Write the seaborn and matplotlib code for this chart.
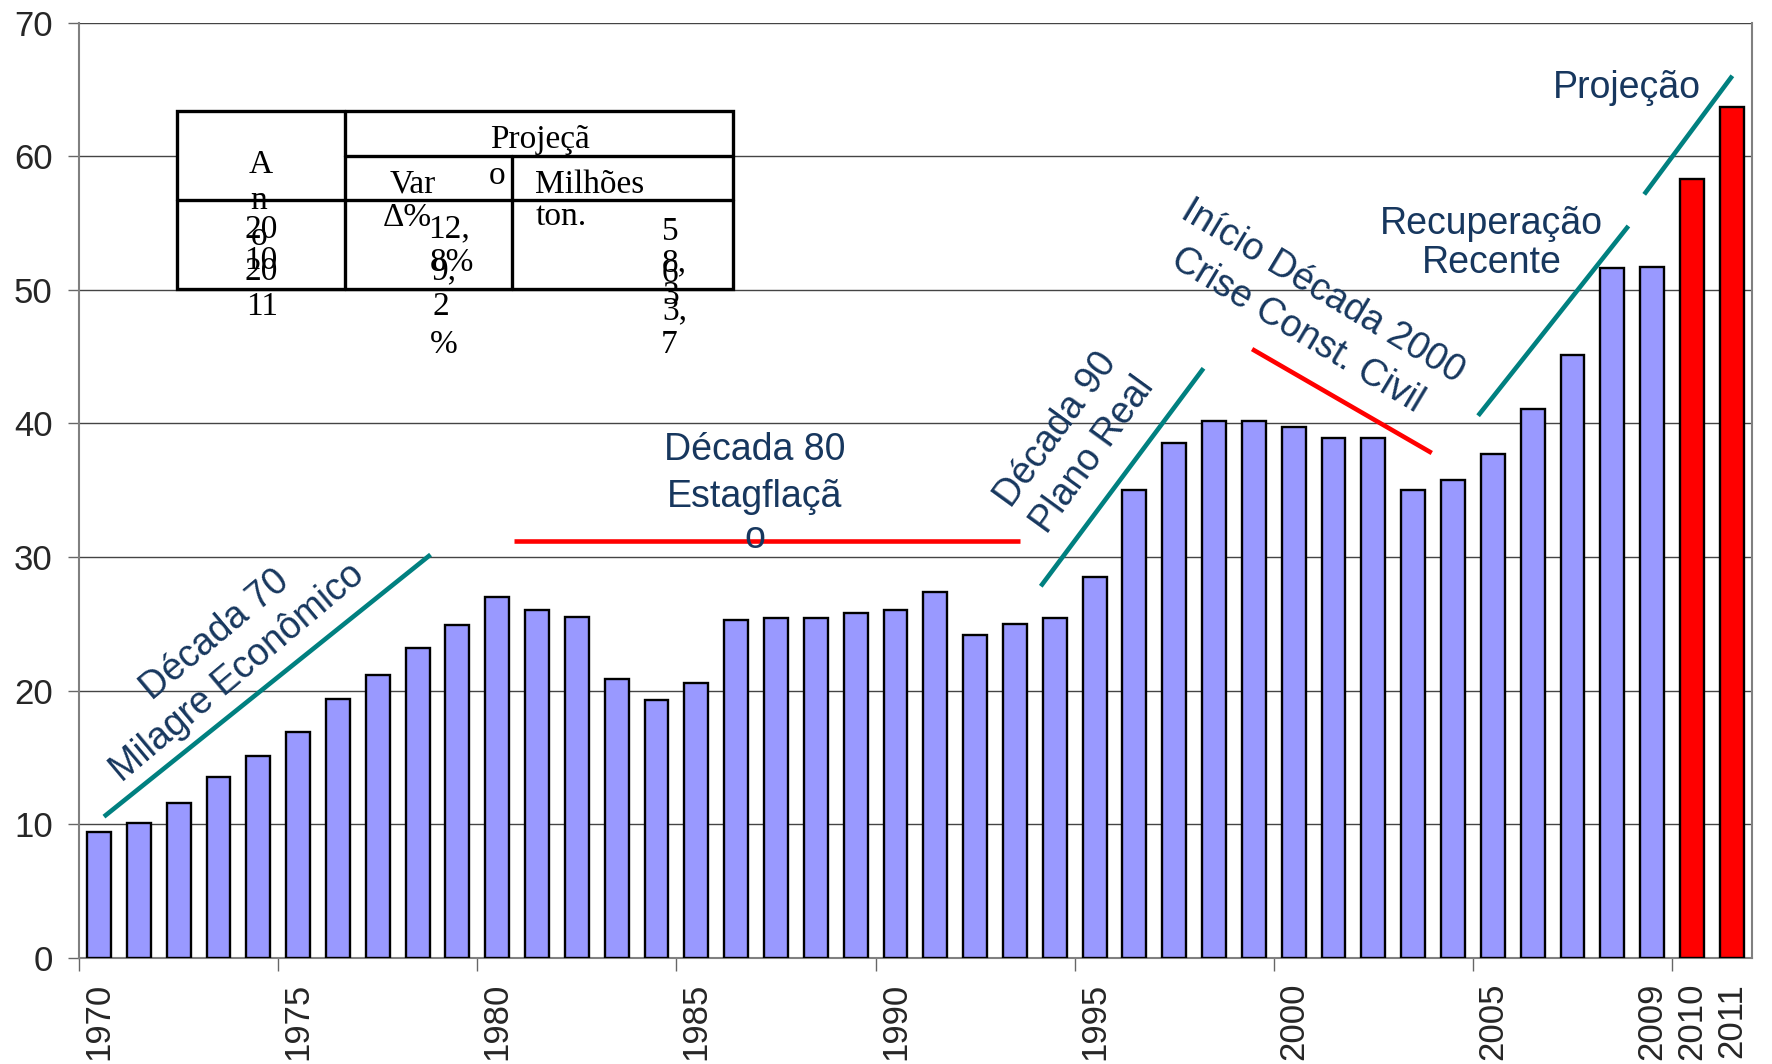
import matplotlib
matplotlib.use("Agg")
import matplotlib.pyplot as plt
from matplotlib.patches import Rectangle
from matplotlib.lines import Line2D
import pandas as pd
import seaborn as sns

# Consumo aparente de cimento no Brasil (milhões de toneladas)
anos = list(range(1970, 2012))
consumo = [9.4, 10.1, 11.6, 13.5, 15.1, 16.9, 19.4, 21.2, 23.2, 24.9,
           27.0, 26.0, 25.5, 20.9, 19.3, 20.6, 25.3, 25.4, 25.4, 25.8,
           26.0, 27.4, 24.2, 25.0, 25.4, 28.5, 35.0, 38.5, 40.2, 40.2,
           39.7, 38.9, 38.9, 35.0, 35.8, 37.7, 41.1, 45.1, 51.6, 51.7,
           58.3, 63.7]
tipo = ["Realizado"] * 40 + ["Projeção"] * 2
anos_rotulados = [1970, 1975, 1980, 1985, 1990, 1995, 2000, 2005, 2009, 2010, 2011]
y_ticks = [0, 10, 20, 30, 40, 50, 60, 70]

# Tabela de projeção
proj_anos = ["2010", "2011"]
proj_var = ["12,8%", "9,2%"]
proj_ton = ["58,3", "63,7"]

df = pd.DataFrame({"ano": [str(a) for a in anos], "consumo": consumo, "tipo": tipo})

W, H = 1772, 1064
fig = plt.figure(figsize=(W / 100, H / 100), dpi=100)
sns.set_style("white")
plt.rcParams["font.family"] = ["Liberation Sans", "DejaVu Sans"]

SX = 1772 / 1568
SY = 1064 / 942


def fx(x):
    return x * SX / W


def fy(y):
    return 1 - y * SY / H


ax = fig.add_axes([fx(70), fy(848), fx(1550) - fx(70), fy(20) - fy(848)])

sns.barplot(data=df, x="ano", y="consumo", hue="tipo",
            palette={"Realizado": "#9999FF", "Projeção": "#FF0000"},
            saturation=1, dodge=False, width=0.6, edgecolor="black",
            linewidth=1.7, legend=False, ax=ax, zorder=3)

ax.set_xlim(-0.5, len(anos) - 0.5)
ax.set_ylim(0, 70)
ax.set_xlabel("")
ax.set_ylabel("")

# y axis
ax.set_yticks(y_ticks)
ax.set_yticklabels([str(v) for v in y_ticks], fontsize=25)
ax.yaxis.grid(True, color="#444444", linewidth=1.0, zorder=0)
ax.set_axisbelow(True)
ax.tick_params(axis="y", length=8, width=1, color="#666666", pad=11, left=True)

# x axis: labels at selected years, tick marks between groups of five
pos = [anos.index(a) for a in anos_rotulados]
ax.set_xticks(pos)
ax.set_xticklabels([str(a) for a in anos_rotulados], rotation=90, fontsize=25)
ax.tick_params(axis="x", which="major", length=0, pad=18)
ax.set_xticks([i - 0.5 for i in range(0, 40, 5)] + [39.5], minor=True)
ax.tick_params(axis="x", which="minor", length=9, width=1, color="#666666", bottom=True)

for side in ["left", "bottom", "right"]:
    ax.spines[side].set_color("#808080")
    ax.spines[side].set_linewidth(1.5)
ax.spines["top"].set_visible(False)


def px_to_data(xs, ys):
    return (xs - 70) / 35.24 - 0.5, (848 - ys) / 11.83


# Trend lines
traços = [
    ((92, 723), (381, 491), "#008080"),
    ((455, 479), (903, 479), "#FF0000"),
    ((921, 519), (1065, 326), "#008080"),
    ((1108, 309), (1267, 401), "#FF0000"),
    ((1308, 368), (1441, 200), "#008080"),
    ((1455, 172), (1533, 67), "#008080"),
]
for (a, b, cor) in traços:
    x0, y0 = px_to_data(*a)
    x1, y1 = px_to_data(*b)
    ax.plot([x0, x1], [y0, y1], color=cor, linewidth=3.3, zorder=5,
            solid_capstyle="butt")

azul = "#17375E"
rotulos = [
    ("Década 70", (190, 562), 40),
    ("Milagre Econômico", (210, 596), 40),
    ("Década 80", (668, 398), 0),
    ("Estagflaçã", (668, 440), 0),
    ("o", (668, 476), 0),
    ("Década 90", (935, 380), 54),
    ("Plano Real", (967, 403), 54),
    ("Início Década 2000", (1170, 258), -31),
    ("Crise Const. Civil", (1148, 292), -31),
    ("Recuperação", (1320, 198), 0),
    ("Recente", (1320, 233), 0),
    ("Projeção", (1440, 78), 0),
]
for txt, (xs, ys), rot in rotulos:
    xd, yd = px_to_data(xs, ys)
    ax.text(xd, yd, txt, color=azul, fontsize=27, rotation=rot,
            rotation_mode="anchor", ha="center", va="center", zorder=6)

# Projection table overlay
tf = fig.transFigure
lw_t = 2.4
fig.patches.append(Rectangle((fx(157), fy(256)), fx(649) - fx(157), fy(98) - fy(256),
                             transform=tf, facecolor="white", edgecolor="black",
                             linewidth=lw_t, zorder=10))
for (x0, y0, x1, y1) in [(305, 138, 649, 138), (157, 177, 649, 177),
                         (305, 98, 305, 256), (453, 138, 453, 256)]:
    fig.lines.append(Line2D([fx(x0), fx(x1)], [fy(y0), fy(y1)], transform=tf,
                            color="black", linewidth=lw_t, zorder=11))

serif = ["Liberation Serif", "DejaVu Serif"]
tabela = [
    ("Projeçã", 478, 124), ("o", 440, 156),
    ("A", 231, 146), ("n", 229, 178),
    ("Var", 365, 163), ("Milhões", 522, 164),
    ("Δ%", 360, 193), (proj_var[0][:3], 397, 203), ("ton.", 497, 192),
    (proj_ton[0][0], 593, 205),
    (proj_anos[0][:2], 231, 203), ("o", 229, 210),
    (proj_anos[0][2:], 231, 231), (proj_anos[1][:2], 231, 241),
    (proj_var[0][3:], 400, 233), (proj_var[1][:2], 393, 240),
    (proj_ton[0][1:3], 597, 233), (proj_ton[1][0], 593, 242),
    (proj_anos[1][2:], 232, 272), (proj_var[1][2], 390, 272),
    (proj_ton[0][3], 593, 262), (proj_ton[1][1:3], 597, 275),
    (proj_var[1][3], 393, 305), (proj_ton[1][3], 592, 305),
]
for txt, xs, ys in tabela:
    fig.text(fx(xs), fy(ys), txt, family=serif, fontsize=24, color="black",
             ha="center", va="center", zorder=12)

fig.savefig("out.png", dpi=100, facecolor="white")
